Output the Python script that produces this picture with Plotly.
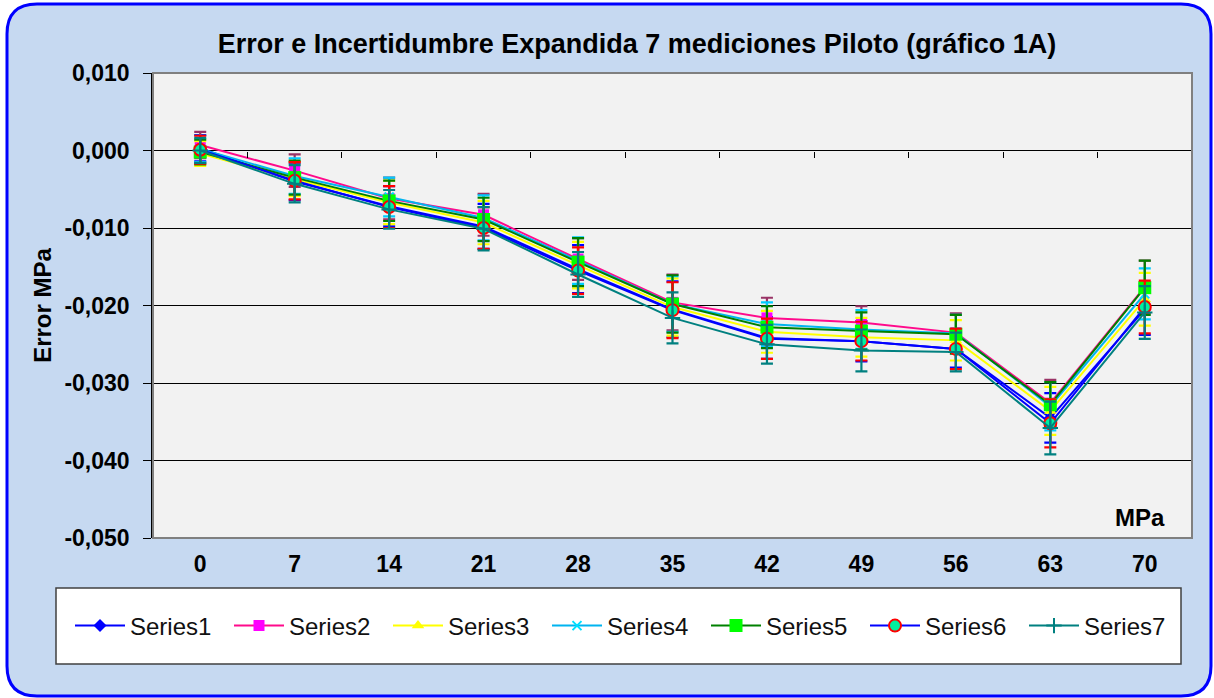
import plotly.graph_objects as go

# ---- data ----
categories = ["0", "7", "14", "21", "28", "35", "42", "49", "56", "63", "70"]
series_names = ["Series1", "Series2", "Series3", "Series4", "Series5", "Series6", "Series7"]

s1 = [0.0003, -0.0040, -0.0072, -0.0098, -0.0153, -0.0205, -0.0242, -0.0246, -0.0256, -0.0345, -0.0205]
s2 = [0.0007, -0.0026, -0.0062, -0.0083, -0.0140, -0.0196, -0.0216, -0.0222, -0.0235, -0.0326, -0.0176]
s3 = [-0.0004, -0.0037, -0.0067, -0.0093, -0.0148, -0.0202, -0.0234, -0.0241, -0.0245, -0.0336, -0.0192]
s4 = [0.0002, -0.0033, -0.0060, -0.0087, -0.0142, -0.0198, -0.0224, -0.0231, -0.0236, -0.0330, -0.0185]
s5 = [-0.0002, -0.0035, -0.0065, -0.0089, -0.0144, -0.0198, -0.0228, -0.0233, -0.0237, -0.0328, -0.0177]
s6 = [0.0001, -0.0039, -0.0073, -0.0100, -0.0155, -0.0206, -0.0243, -0.0246, -0.0256, -0.0352, -0.0202]
s7 = [0.0000, -0.0043, -0.0076, -0.0101, -0.0160, -0.0216, -0.0250, -0.0258, -0.0260, -0.0358, -0.0209]

u1 = [0.0017, 0.0024, 0.0026, 0.0029, 0.0031, 0.0036, 0.0027, 0.0026, 0.0024, 0.0032, 0.0033]
u2 = [0.0017, 0.0021, 0.0027, 0.0027, 0.0027, 0.0036, 0.0026, 0.0021, 0.0025, 0.0030, 0.0034]
u3 = [0.0016, 0.0022, 0.0028, 0.0028, 0.0030, 0.0037, 0.0027, 0.0025, 0.0026, 0.0031, 0.0034]
u4 = [0.0017, 0.0023, 0.0025, 0.0029, 0.0030, 0.0036, 0.0028, 0.0025, 0.0024, 0.0031, 0.0033]
u5 = [0.0016, 0.0022, 0.0026, 0.0028, 0.0031, 0.0037, 0.0027, 0.0024, 0.0025, 0.0029, 0.0035]
u6 = [0.0018, 0.0024, 0.0027, 0.0027, 0.0030, 0.0036, 0.0026, 0.0025, 0.0026, 0.0031, 0.0034]
u7 = [0.0016, 0.0024, 0.0025, 0.0028, 0.0029, 0.0033, 0.0025, 0.0027, 0.0025, 0.0034, 0.0034]

y_tickvals = [0.01, 0.0, -0.01, -0.02, -0.03, -0.04, -0.05]
y_ticktext = ["0,010", "0,000", "-0,010", "-0,020", "-0,030", "-0,040", "-0,050"]

title_text = "Error e Incertidumbre Expandida 7 mediciones Piloto (gráfico 1A)"
y_title = "Error MPa"
x_unit = "MPa"

# ---- styles ----
styles = [
    dict(line="#0000FF", marker=dict(symbol="diamond", size=10, color="#0000FF"), err="#0000FF"),
    dict(line="#FF0A8C", marker=dict(symbol="square", size=11, color="#FF00FF"), err="#993366"),
    dict(line="#FFFF00", marker=dict(symbol="triangle-up", size=11, color="#FFFF00"), err="#FFFF00"),
    dict(line="#00B4F0", marker=dict(symbol="x-thin", size=9, color="#00FFFF",
                                     line=dict(color="#00E0FF", width=2)), err="#00CCFF"),
    dict(line="#008000", marker=dict(symbol="square", size=13, color="#00FF00"), err="#008000"),
    dict(line="#0000FF", marker=dict(symbol="circle", size=12, color="#00F0A0",
                                     line=dict(color="#FF0000", width=2)), err="#FF0000"),
    dict(line="#008080", marker=dict(symbol="cross-thin", size=11, color="#008080",
                                     line=dict(color="#008080", width=2)), err="#008080"),
]

values = [s1, s2, s3, s4, s5, s6, s7]
uncert = [u1, u2, u3, u4, u5, u6, u7]

FONT = "Arial, 'Liberation Sans', sans-serif"

fig = go.Figure()
for name, v, u, st in zip(series_names, values, uncert, styles):
    fig.add_trace(go.Scatter(
        x=categories, y=v, name=name, mode="lines+markers",
        line=dict(color=st["line"], width=2),
        marker=st["marker"],
        error_y=dict(type="data", array=u, visible=True, color=st["err"],
                     thickness=2.2, width=6),
    ))

# helper trace so the boundary-tick axis at y=0 is drawn
fig.add_trace(go.Scatter(x=categories, y=[None] * len(categories), xaxis="x2",
                         showlegend=False, hoverinfo="skip", mode="lines"))

# geometry of the outer frame (plot area = 153..1192 x 73..538 px)
W, H = 1039.0, 465.0
def px_x(p):
    return (p - 153) / W
def px_y(p):
    return (538 - p) / H

x0, x1 = px_x(7), px_x(1211)
y1, y0 = px_y(4), px_y(696)
rx, ry = 30 / W, 30 / H
frame_path = (
    f"M {x0+rx},{y1} L {x1-rx},{y1} Q {x1},{y1} {x1},{y1-ry} "
    f"L {x1},{y0+ry} Q {x1},{y0} {x1-rx},{y0} "
    f"L {x0+rx},{y0} Q {x0},{y0} {x0},{y0+ry} "
    f"L {x0},{y1-ry} Q {x0},{y1} {x0+rx},{y1} Z"
)

shapes = [
    dict(type="path", path=frame_path, xref="paper", yref="paper",
         fillcolor="#C6D9F1", line=dict(color="#0000FF", width=3), layer="below"),
    # plot area background
    dict(type="rect", xref="paper", yref="paper", x0=0, x1=1, y0=0, y1=1,
         fillcolor="#F2F2F2", line=dict(width=0), layer="below"),
    # legend box
    dict(type="rect", xref="paper", yref="paper",
         x0=px_x(56), x1=px_x(1181), y0=px_y(664), y1=px_y(588),
         fillcolor="#FFFFFF", line=dict(color="#404040", width=1.5), layer="below"),
    # plot area border
    dict(type="rect", xref="paper", yref="paper", x0=0, x1=1, y0=0, y1=1,
         line=dict(color="#808080", width=2), layer="above"),
]

fig.update_layout(
    width=1214, height=698,
    margin=dict(l=153, r=22, t=73, b=160),
    paper_bgcolor="#FFFFFF",
    plot_bgcolor="#F2F2F2",
    font=dict(family=FONT, color="#000000"),
    title=dict(text=f"<b>{title_text}</b>", x=px_x(637), xref="paper", xanchor="center",
               y=1 - 44 / 698, yref="container", yanchor="middle",
               font=dict(size=27, color="#000000")),
    xaxis=dict(type="category", categoryorder="array", categoryarray=categories,
               range=[-0.5, 10.5], showgrid=False, zeroline=False, showline=False,
               ticks="", tickfont=dict(size=23, family=FONT, color="#000000", weight="bold"),
               ticklabelstandoff=10, fixedrange=True),
    xaxis2=dict(type="category", categoryorder="array", categoryarray=categories,
                range=[-0.5, 10.5], overlaying="x", anchor="free",
                position=(0 - (-0.05)) / 0.06, side="bottom",
                ticks="outside", ticklen=6, tickwidth=1, tickcolor="#000000",
                tickson="boundaries", showticklabels=False, showgrid=False,
                showline=False, zeroline=False),
    yaxis=dict(range=[-0.05, 0.01], tickvals=y_tickvals, ticktext=y_ticktext,
               showgrid=True, gridcolor="#000000", gridwidth=1, zeroline=False,
               showline=True, linecolor="#000000", linewidth=1.5,
               ticks="outside", ticklen=8, tickcolor="#000000",
               ticklabelstandoff=9,
               tickfont=dict(size=23, family=FONT, color="#000000", weight="bold"),
               title=dict(text=f"<b>{y_title}</b>", font=dict(size=24, color="#000000"),
                          standoff=6)),
    showlegend=True,
    legend=dict(orientation="h", x=px_x(70), xanchor="left", y=px_y(626), yanchor="middle",
                bgcolor="rgba(0,0,0,0)", borderwidth=0,
                entrywidth=94, entrywidthmode="pixels", itemwidth=50,
                font=dict(size=24, family=FONT, color="#111111")),
    shapes=shapes,
    annotations=[dict(text=f"<b>{x_unit}</b>", xref="paper", yref="paper",
                      x=px_x(1140), y=px_y(517), xanchor="center", yanchor="middle",
                      showarrow=False, font=dict(size=24, color="#000000"))],
)

fig.write_html("out.html", config={"displayModeBar": False},
               post_script="document.body.style.margin='0';")
